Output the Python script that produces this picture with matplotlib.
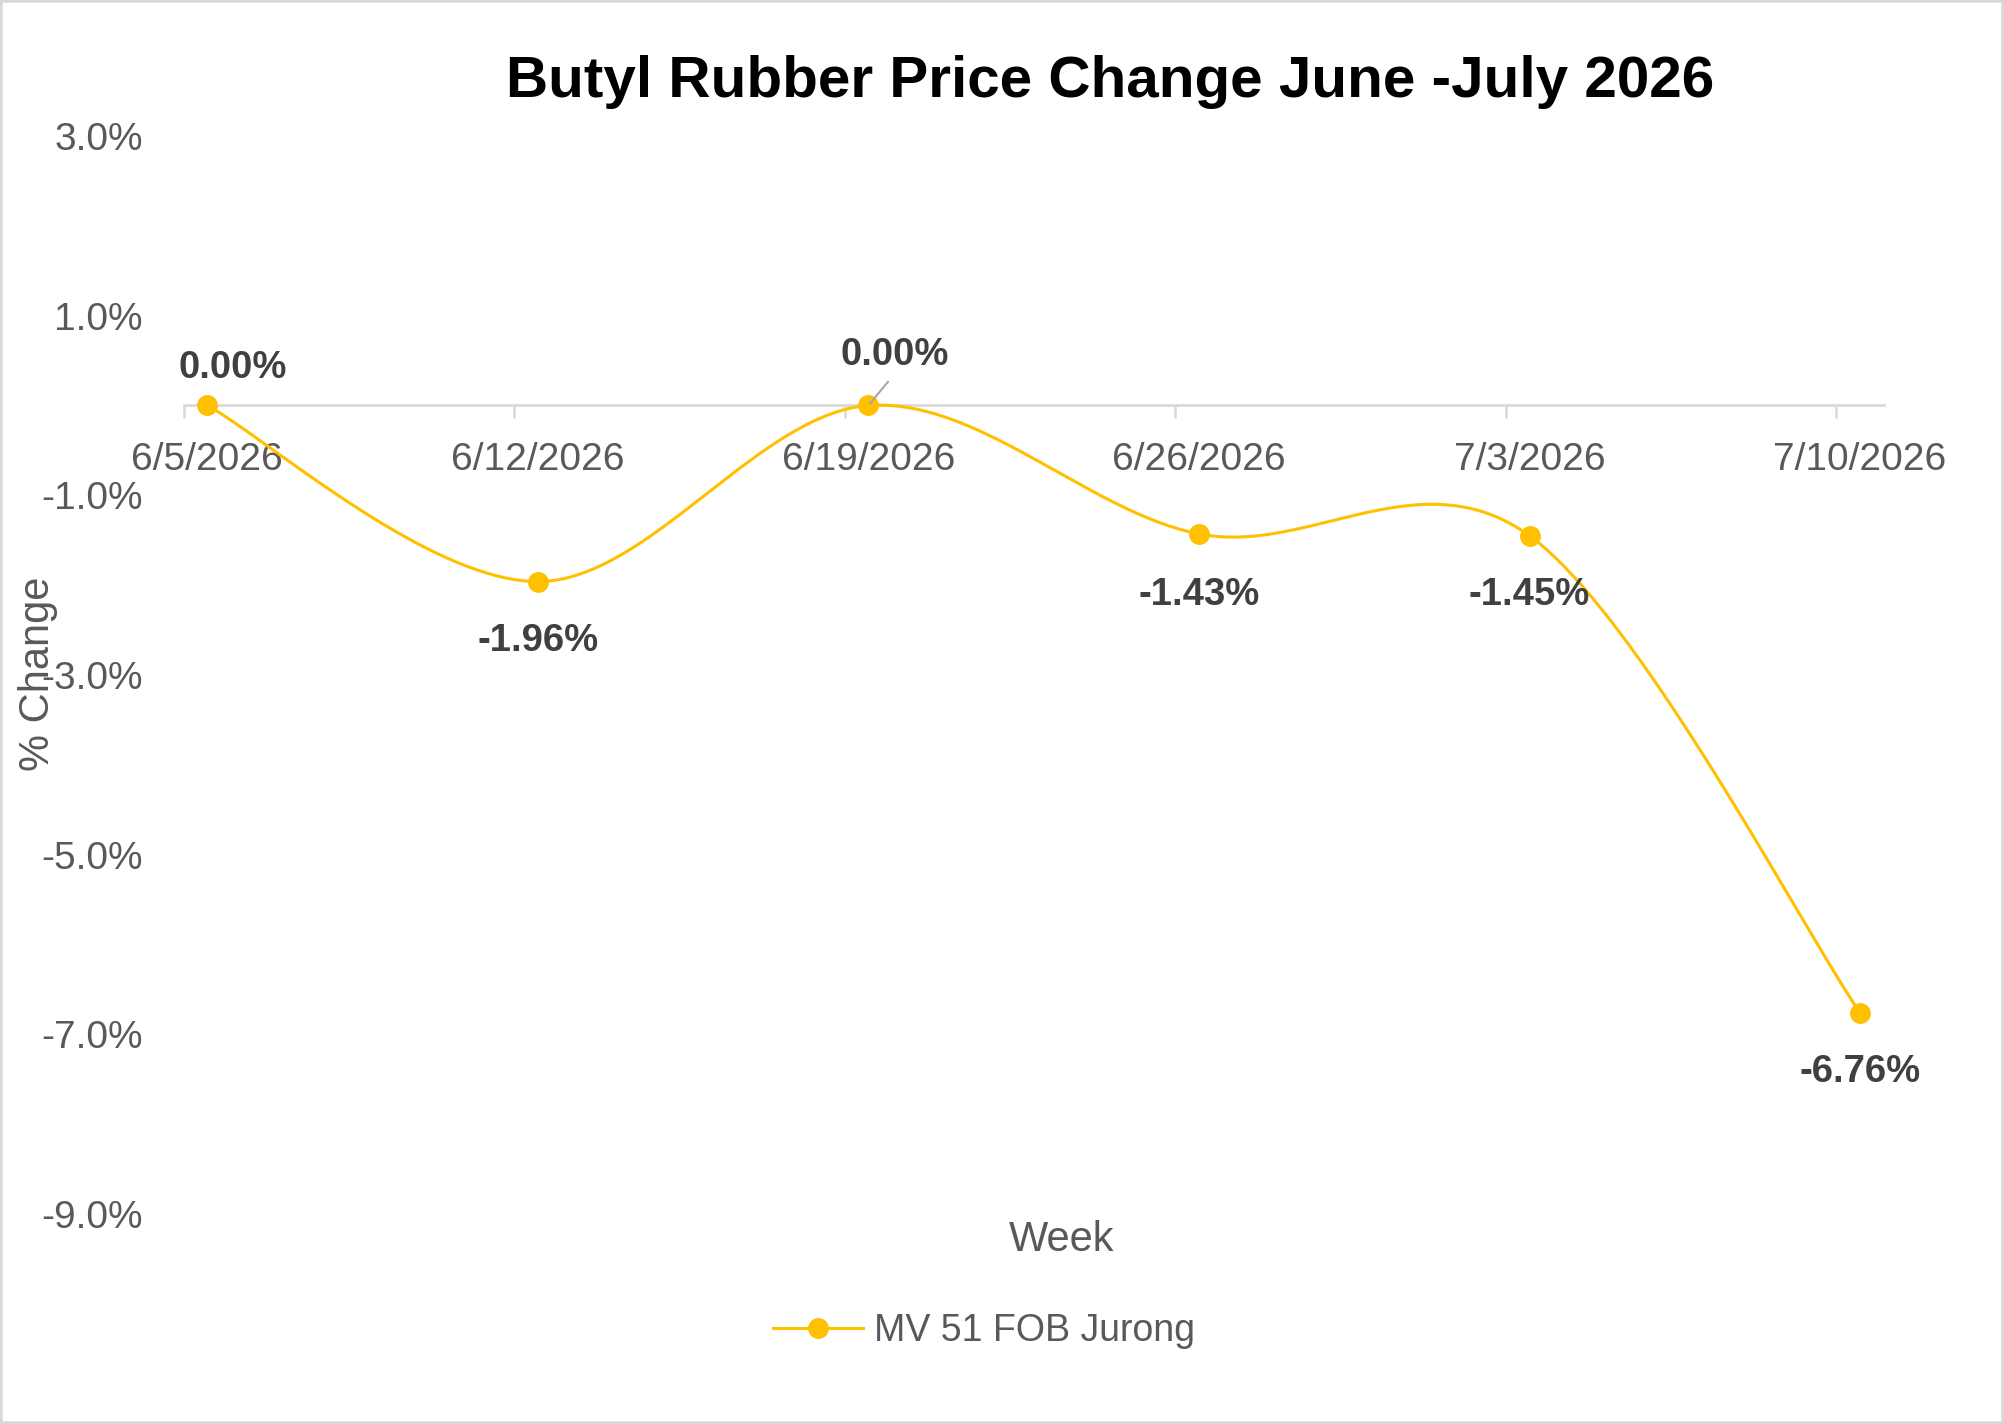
import numpy as np
import pandas as pd
import matplotlib
matplotlib.use("Agg")
import matplotlib.pyplot as plt
from matplotlib.patches import Rectangle
from matplotlib.lines import Line2D

# ---------------- data ----------------
weeks = ["6/5/2026", "6/12/2026", "6/19/2026", "6/26/2026", "7/3/2026", "7/10/2026"]
pct_change = [0.00, -1.96, 0.00, -1.43, -1.45, -6.76]
series_name = "MV 51 FOB Jurong"
y_ticks = [3.0, 1.0, -1.0, -3.0, -5.0, -7.0, -9.0]
title = "Butyl Rubber Price Change June -July 2026"

# ---------------- style ----------------
plt.rcParams["font.family"] = ["Liberation Sans", "DejaVu Sans"]
GOLD = "#FFC000"
GRAY_TXT = "#595959"
LABEL_TXT = "#404040"
AXIS_GRAY = "#D9D9D9"

dates = pd.to_datetime(weeks, format="%m/%d/%Y")
x = np.asarray((dates - dates[0]).days, dtype=float)
y = np.asarray(pct_change, dtype=float)


def excel_smooth(xv, yv, n=80):
    """Catmull-Rom style cubic Bezier smoothing (like Excel's smoothed line)."""
    N = len(xv)
    xs, ys = [], []
    t = np.linspace(0, 1, n)
    for i in range(N - 1):
        i0 = i - 1 if i > 0 else i
        i3 = i + 2 if i + 2 < N else i + 1
        p1 = np.array([xv[i], yv[i]])
        p2 = np.array([xv[i + 1], yv[i + 1]])
        c1 = p1 + (p2 - np.array([xv[i0], yv[i0]])) / 6.0
        c2 = p2 - (np.array([xv[i3], yv[i3]]) - p1) / 6.0
        b = ((1 - t) ** 3)[:, None] * p1 + (3 * (1 - t) ** 2 * t)[:, None] * c1 \
            + (3 * (1 - t) * t ** 2)[:, None] * c2 + (t ** 3)[:, None] * p2
        xs.append(b[:, 0])
        ys.append(b[:, 1])
    return np.concatenate(xs), np.concatenate(ys)


fig = plt.figure(figsize=(20.04, 14.24), dpi=100)
ax = fig.add_axes([183.7 / 2004, 1 - 1214 / 1424, 1700 / 2004, (1214 - 136) / 1424])

sx, sy = excel_smooth(x, y)
ax.plot(sx, sy, color=GOLD, lw=2.2, solid_capstyle="round", zorder=3)
ax.plot(x, y, linestyle="none", marker="o", markersize=14, color=GOLD,
        markeredgecolor=GOLD, zorder=4)

ax.set_ylim(y_ticks[-1], y_ticks[0])
ax.set_xlim(x[0] - 0.5, x[-1] + 0.5)

# y axis
ax.set_yticks(y_ticks)
ax.set_yticklabels([f"{v:.1f}%" for v in y_ticks], fontsize=28, color=GRAY_TXT)
ax.tick_params(axis="y", length=0, pad=29.5)

# x axis at zero
ax.spines["bottom"].set_position(("data", 0))
ax.spines["bottom"].set_color(AXIS_GRAY)
ax.spines["bottom"].set_linewidth(2.0)
for s in ["left", "top", "right"]:
    ax.spines[s].set_visible(False)
ax.set_xticks(x)
ax.set_xticklabels(weeks, fontsize=28, color=GRAY_TXT)
ax.set_xticks(np.arange(x[0] - 0.5, x[-1], 7), minor=True)
ax.tick_params(axis="x", which="major", length=0, pad=26)
ax.tick_params(axis="x", which="minor", length=9.5, width=1.8, color=AXIS_GRAY, direction="out")

# data labels
label_offsets = [(18, 27), (0, -43), (19, 36), (0, -44), (0, -43), (0, -43)]
for i, (xi, yi) in enumerate(zip(x, y)):
    dx, dy = label_offsets[i]
    kw = {}
    if i == 2:
        kw["arrowprops"] = dict(arrowstyle="-", color="#A6A6A6", lw=1.5,
                                shrinkA=5, shrinkB=2, relpos=(0.5, 0.0))
    ax.annotate(f"{yi:.2f}%", xy=(xi, yi), xytext=(dx, dy), textcoords="offset points",
                ha="center", va="center", fontsize=27.5, fontweight="bold",
                color=LABEL_TXT, zorder=5, **kw)

# titles
fig.text(1110.5 / 2004, 1 - 97 / 1424, title, ha="center", va="baseline",
         fontsize=42, fontweight="bold", color="black")
fig.text(38 / 2004, 1 - 674 / 1424, "% Change", rotation=90, ha="center", va="center",
         fontsize=30, color=GRAY_TXT)
fig.text(1062 / 2004, 1 - 1240 / 1424, "Week", ha="center", va="center",
         fontsize=30, color=GRAY_TXT)

# legend
handle = Line2D([], [], color=GOLD, lw=2.2, marker="o", markersize=14)
fig.legend([handle], [series_name], loc="center", bbox_to_anchor=(984 / 2004, 1 - 1331 / 1424),
           frameon=False, fontsize=27, handlelength=2.4, handletextpad=0.3,
           labelcolor=GRAY_TXT, borderpad=0)

# outer border
fig.patches.append(Rectangle((0, 0), 1, 1, transform=fig.transFigure, fill=False,
                             edgecolor=AXIS_GRAY, lw=4))

fig.savefig("out.png", dpi=100, facecolor="white")
